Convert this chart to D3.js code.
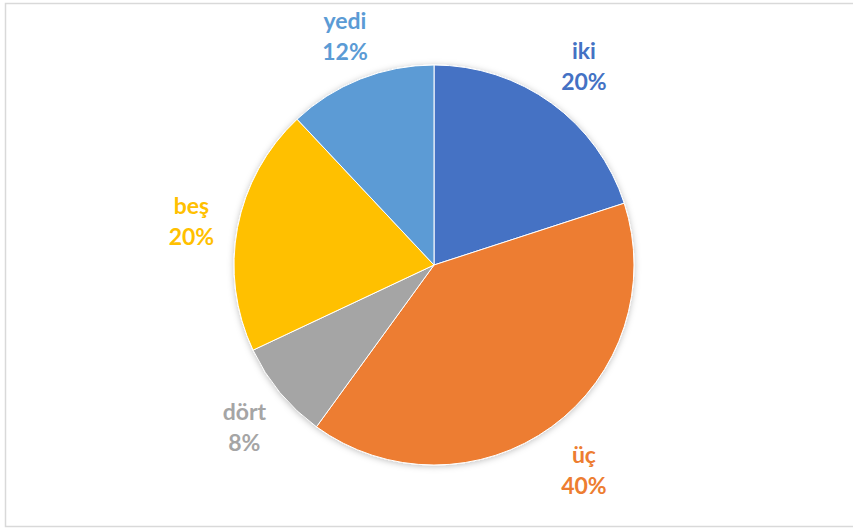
<!DOCTYPE html>
<html lang="en">
<head>
    <meta charset="UTF-8">
    <title>Pie</title>
    <script src="https://d3js.org/d3.v7.min.js"></script>
    <style>
        body { margin: 0; background: #fff; }
        text { font-family: Lato, "Open Sans", sans-serif; font-weight: bold; }
    </style>
</head>
<body>
<script>
    let labels = ["iki", "üç", "dört", "beş", "yedi"];
    let values = [20, 40, 8, 20, 12];
    let colors = ["#4472C4", "#ED7D31", "#A5A5A5", "#FFC000", "#5B9BD5"];

    let width = 853, height = 529;
    let cx = 434, cy = 265, radius = 200;

    let svg = d3.select('body').append('svg')
        .attr('width', width)
        .attr('height', height);

    svg.append('rect')
        .attr('x', 5.5).attr('y', 3.5)
        .attr('width', 860).attr('height', 523)
        .style('fill', 'white')
        .style('stroke', '#d9d9d9')
        .style('stroke-width', 1.5);

    let defs = svg.append('defs');
    let shadow = defs.append('filter').attr('id', 'shadow')
        .attr('x', '-20%').attr('y', '-20%').attr('width', '140%').attr('height', '140%');
    shadow.append('feDropShadow')
        .attr('dx', 0).attr('dy', 1)
        .attr('stdDeviation', 3)
        .attr('flood-color', '#000')
        .attr('flood-opacity', 0.25);

    let pie = d3.pie().sort(null).value(function (d) { return d; });
    let arcs = pie(values);

    let arc = d3.arc().innerRadius(0).outerRadius(radius);
    let labelArc = d3.arc().innerRadius(250).outerRadius(250);

    let g = svg.append('g').attr('transform', 'translate(' + cx + ',' + cy + ')');

    g.append('g').attr('filter', 'url(#shadow)')
        .selectAll('path')
        .data(arcs)
        .enter()
        .append('path')
        .attr('d', arc)
        .style('fill', function (d, i) { return colors[i]; })
        .style('stroke', 'white')
        .style('stroke-width', 1);

    let total = d3.sum(values);
    let lbl = g.selectAll('.lbl')
        .data(arcs)
        .enter()
        .append('text')
        .attr('class', 'lbl')
        .attr('text-anchor', 'middle')
        .style('font-size', '23px')
        .style('fill', function (d, i) { return colors[i]; })
        .attr('transform', function (d) {
            let c = labelArc.centroid(d);
            return 'translate(' + (c[0] + 3) + ',' + (c[1] + 2) + ')';
        });

    lbl.append('tspan')
        .attr('x', 0).attr('y', -6)
        .text(function (d, i) { return labels[i]; });
    lbl.append('tspan')
        .attr('x', 0).attr('y', 25)
        .text(function (d) { return Math.round(d.value / total * 100) + '%'; });
</script>
</body>
</html>
